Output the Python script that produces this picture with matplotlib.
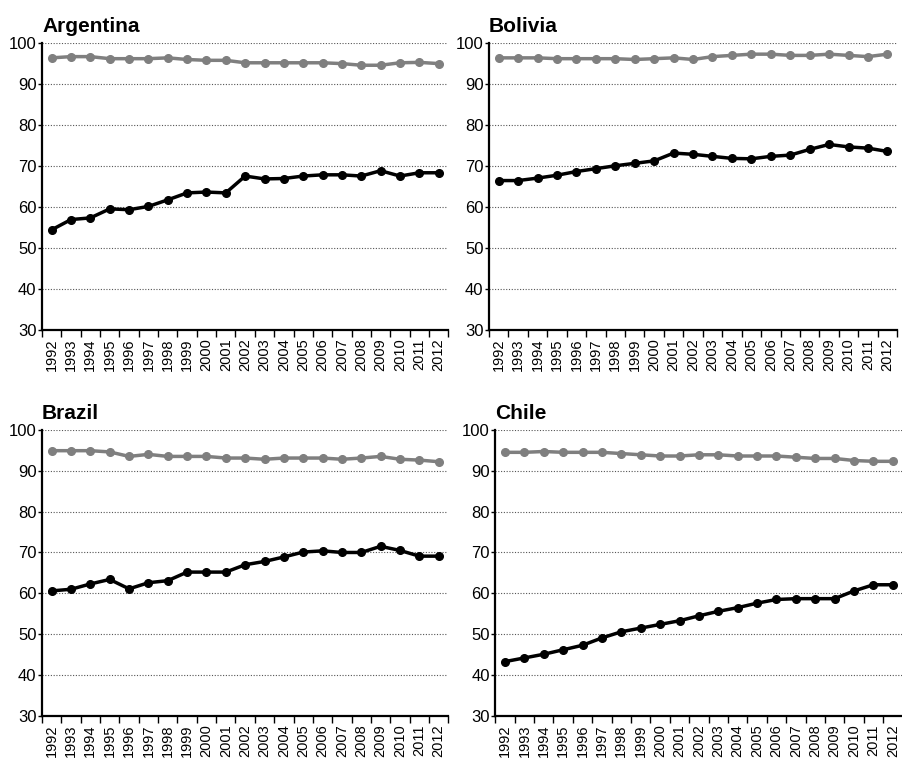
import numpy as np
import matplotlib.pyplot as plt

# 데이터
years = list(range(1992, 2013))
countries = ["Argentina", "Bolivia", "Brazil", "Chile"]

argentina_gray = [96.3, 96.6, 96.6, 96.1, 96.1, 96.1, 96.3, 95.9, 95.7, 95.7, 95.1,
                  95.1, 95.1, 95.1, 95.1, 94.9, 94.5, 94.5, 95.1, 95.2, 94.9]
argentina_black = [54.4, 56.9, 57.3, 59.5, 59.3, 60.1, 61.7, 63.4, 63.6, 63.4, 67.5,
                   66.8, 66.9, 67.5, 67.8, 67.8, 67.5, 68.8, 67.5, 68.3, 68.3]
bolivia_gray = [96.3, 96.3, 96.3, 96.1, 96.1, 96.1, 96.1, 95.9, 96.1, 96.3, 95.9,
                96.6, 96.9, 97.2, 97.2, 96.9, 96.9, 97.2, 96.9, 96.6, 97.2]
bolivia_black = [66.4, 66.4, 67.0, 67.7, 68.6, 69.3, 70.0, 70.6, 71.2, 73.1, 72.8,
                 72.3, 71.8, 71.7, 72.3, 72.6, 74.0, 75.2, 74.6, 74.3, 73.5]
brazil_gray = [94.9, 94.9, 94.9, 94.6, 93.5, 94.0, 93.5, 93.5, 93.5, 93.1, 93.1,
               92.8, 93.1, 93.1, 93.1, 92.8, 93.1, 93.5, 92.8, 92.6, 92.2]
brazil_black = [60.6, 61.0, 62.3, 63.4, 61.1, 62.6, 63.1, 65.2, 65.2, 65.2, 67.0,
                67.8, 68.9, 70.1, 70.4, 70.0, 70.0, 71.5, 70.5, 69.1, 69.1]
chile_gray = [94.5, 94.5, 94.7, 94.5, 94.5, 94.5, 94.2, 93.9, 93.6, 93.6, 93.9,
              93.9, 93.6, 93.6, 93.6, 93.3, 93.0, 93.0, 92.5, 92.3, 92.3]
chile_black = [43.3, 44.2, 45.1, 46.2, 47.3, 49.1, 50.6, 51.5, 52.4, 53.3, 54.5,
               55.6, 56.5, 57.6, 58.5, 58.7, 58.7, 58.7, 60.6, 62.1, 62.1]

gray_series = [argentina_gray, bolivia_gray, brazil_gray, chile_gray]
black_series = [argentina_black, bolivia_black, brazil_black, chile_black]

# 차트 위치 (left, bottom, width, height)
boxes = [
    [0.0465, 0.567, 0.450, 0.377],
    [0.5415, 0.567, 0.452, 0.377],
    [0.0465, 0.0604, 0.450, 0.3755],
    [0.5485, 0.0604, 0.451, 0.3755],
]

plt.rcParams['font.family'] = ['Liberation Sans', 'DejaVu Sans']

fig = plt.figure(figsize=(9.03, 7.62), dpi=100)

for name, g, b, box in zip(countries, gray_series, black_series, boxes):
    ax = fig.add_axes(box)
    ax.plot(years, g, color='#7f7f7f', lw=2.5, marker='o', ms=5.5, zorder=3)
    ax.plot(years, b, color='black', lw=2.5, marker='o', ms=5.5, zorder=4)

    ax.set_xlim(1991.5, 2012.5)
    ax.set_ylim(30, 100)
    ax.set_yticks(range(30, 101, 10))
    ax.set_xticks(years)
    ax.set_xticklabels([str(y) for y in years], rotation=90, fontsize=10.5)
    ax.set_xticks(np.arange(1991.5, 2013, 1), minor=True)
    ax.tick_params(axis='x', which='major', length=0, pad=6)
    ax.tick_params(axis='x', which='minor', length=5, width=1, direction='out')
    ax.tick_params(axis='y', length=3, width=1, labelsize=12, pad=1)

    for gv in range(40, 101, 10):
        ax.axhline(gv, color='#555555', lw=0.8, ls=(0, (1, 1.5)), zorder=1)

    ax.spines['top'].set_visible(False)
    ax.spines['right'].set_visible(False)
    ax.spines['left'].set_linewidth(1.6)
    ax.spines['bottom'].set_linewidth(1.6)

    ax.set_title(name, loc='left', fontsize=15, fontweight='bold', pad=8)

fig.savefig('out.png', dpi=100)
